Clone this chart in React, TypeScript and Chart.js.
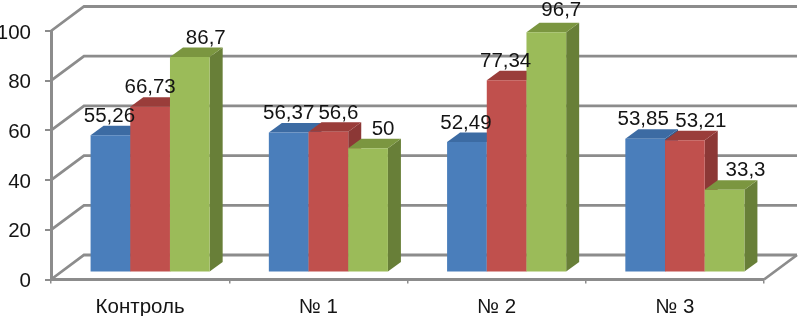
import React, { useEffect, useRef } from "react";
import { Chart, registerables } from "chart.js";

Chart.register(...registerables);

const categories = ["Контроль", "№ 1", "№ 2", "№ 3"];
const seriesA = [55.26, 56.37, 52.49, 53.85];
const seriesB = [66.73, 56.6, 77.34, 53.21];
const seriesC = [86.7, 50, 96.7, 33.3];

// hand-placed label nudges in the source picture (dx per bar)
const nudgeA = [-1, 0, -1, -2];
const nudgeB = [0, 10, -1, 16];
const nudgeC = [16, 15, 15, 21];

const FONT = "'Liberation Sans', Arial, sans-serif";
const FONT_SIZE = 20.5;
const TEXT = "#141414";
const GRID = "#8c8c8c";

const AREA = { left: 51, right: 764, top: 31, bottom: 279.5 };
const WALL = { dx: 33, dy: -24.5 };
const SHIFT = { dx: 10, dy: -7 };
const DEPTH = { dx: 13, dy: -9.5 };

const shades = [
  { front: "#4a7ebb", top: "#3c6ba3", side: "#2f5a8e" },
  { front: "#c0504d", top: "#9a3d3a", side: "#8c3836" },
  { front: "#9bbb59", top: "#7b9640", side: "#687f38" },
];
const nudges = [nudgeA, nudgeB, nudgeC];

const poly = (ctx: CanvasRenderingContext2D, pts: number[][], fill: string) => {
  ctx.beginPath();
  pts.forEach(([x, y], i) => (i ? ctx.lineTo(x, y) : ctx.moveTo(x, y)));
  ctx.closePath();
  ctx.fillStyle = fill;
  ctx.fill();
};

const walls3d = {
  id: "walls3d",
  beforeDatasetsDraw(chart: any) {
    const { ctx, scales } = chart;
    const y = scales.y;
    const x = scales.x;
    ctx.save();
    ctx.strokeStyle = GRID;
    ctx.lineWidth = 2.8;
    y.ticks.forEach((t: any) => {
      const py = y.getPixelForValue(t.value);
      ctx.beginPath();
      ctx.moveTo(x.left, py);
      ctx.lineTo(x.left + WALL.dx, py + WALL.dy);
      ctx.lineTo(x.right + WALL.dx, py + WALL.dy);
      ctx.stroke();
    });
    const y0 = y.getPixelForValue(0);
    ctx.beginPath();
    ctx.moveTo(x.right, y0);
    ctx.lineTo(x.right + WALL.dx, y0 + WALL.dy);
    ctx.stroke();
    ctx.restore();

    // Bars left to right so that each one covers its neighbour's side face.
    ctx.save();
    ctx.translate(SHIFT.dx, SHIFT.dy);
    chart.data.datasets.forEach((_: any, i: number) => {
      const s = shades[i];
      chart.getDatasetMeta(i).data.forEach((el: any) => {
        const x1 = el.x - el.width / 2;
        const x2 = el.x + el.width / 2;
        poly(ctx, [
          [x2, el.y],
          [x2 + DEPTH.dx, el.y + DEPTH.dy],
          [x2 + DEPTH.dx, el.base + DEPTH.dy],
          [x2, el.base],
        ], s.side);
        poly(ctx, [
          [x1, el.y],
          [x2, el.y],
          [x2 + DEPTH.dx, el.y + DEPTH.dy],
          [x1 + DEPTH.dx, el.y + DEPTH.dy],
        ], s.top);
        el.draw(ctx);
      });
    });
    ctx.restore();
  },
  beforeDatasetDraw() {
    return false;
  },
  afterDatasetsDraw(chart: any) {
    const { ctx } = chart;
    ctx.save();
    ctx.font = `${FONT_SIZE}px ${FONT}`;
    ctx.fillStyle = TEXT;
    ctx.textAlign = "center";
    ctx.textBaseline = "middle";
    chart.data.datasets.forEach((ds: any, i: number) => {
      chart.getDatasetMeta(i).data.forEach((el: any, j: number) => {
        const text = String(ds.data[j]).replace(".", ",");
        const lift = ds.data[j] > 90 ? 22 : 19;
        ctx.fillText(text, el.x + SHIFT.dx + nudges[i][j], el.y + SHIFT.dy - lift);
      });
    });
    ctx.restore();
  },
};

export default function App() {
  const ref = useRef<HTMLCanvasElement>(null);
  useEffect(() => {
    document.body.style.margin = "0";
    document.body.style.background = "#fff";
    const mk = (data: number[], i: number) => ({
      data,
      backgroundColor: shades[i].front,
      borderWidth: 0,
      categoryPercentage: 0.668,
      barPercentage: 1,
    });
    const chart = new Chart(ref.current!, {
      type: "bar",
      data: {
        labels: categories,
        datasets: [mk(seriesA, 0), mk(seriesB, 1), mk(seriesC, 2)],
      },
      options: {
        responsive: false,
        animation: false,
        layout: { padding: { top: AREA.top, right: 803 - AREA.right, left: 0, bottom: 0 } },
        plugins: { legend: { display: false }, tooltip: { enabled: false } },
        scales: {
          x: {
            afterFit: (s: any) => {
              s.height = 316 - AREA.bottom;
            },
            grid: { drawOnChartArea: false, tickLength: 4, tickColor: GRID, lineWidth: 1.5 },
            border: { color: GRID, width: 3 },
            ticks: {
              autoSkip: false,
              maxRotation: 0,
              padding: 12,
              color: TEXT,
              font: { family: FONT, size: FONT_SIZE },
            },
          },
          y: {
            min: 0,
            max: 100,
            afterFit: (s: any) => {
              s.width = AREA.left;
            },
            grid: { drawOnChartArea: false, tickLength: 6, tickColor: GRID, lineWidth: 2 },
            border: { color: GRID, width: 3 },
            ticks: {
              stepSize: 20,
              padding: 14,
              labelOffset: 2,
              color: TEXT,
              font: { family: FONT, size: FONT_SIZE },
            },
          },
        },
      },
      plugins: [walls3d],
    });
    return () => chart.destroy();
  }, []);
  return (
    <div style={{ position: "absolute", left: 0, top: 0, width: 803, height: 316 }}>
      <canvas ref={ref} width={803} height={316} style={{ display: "block" }} />
    </div>
  );
}
